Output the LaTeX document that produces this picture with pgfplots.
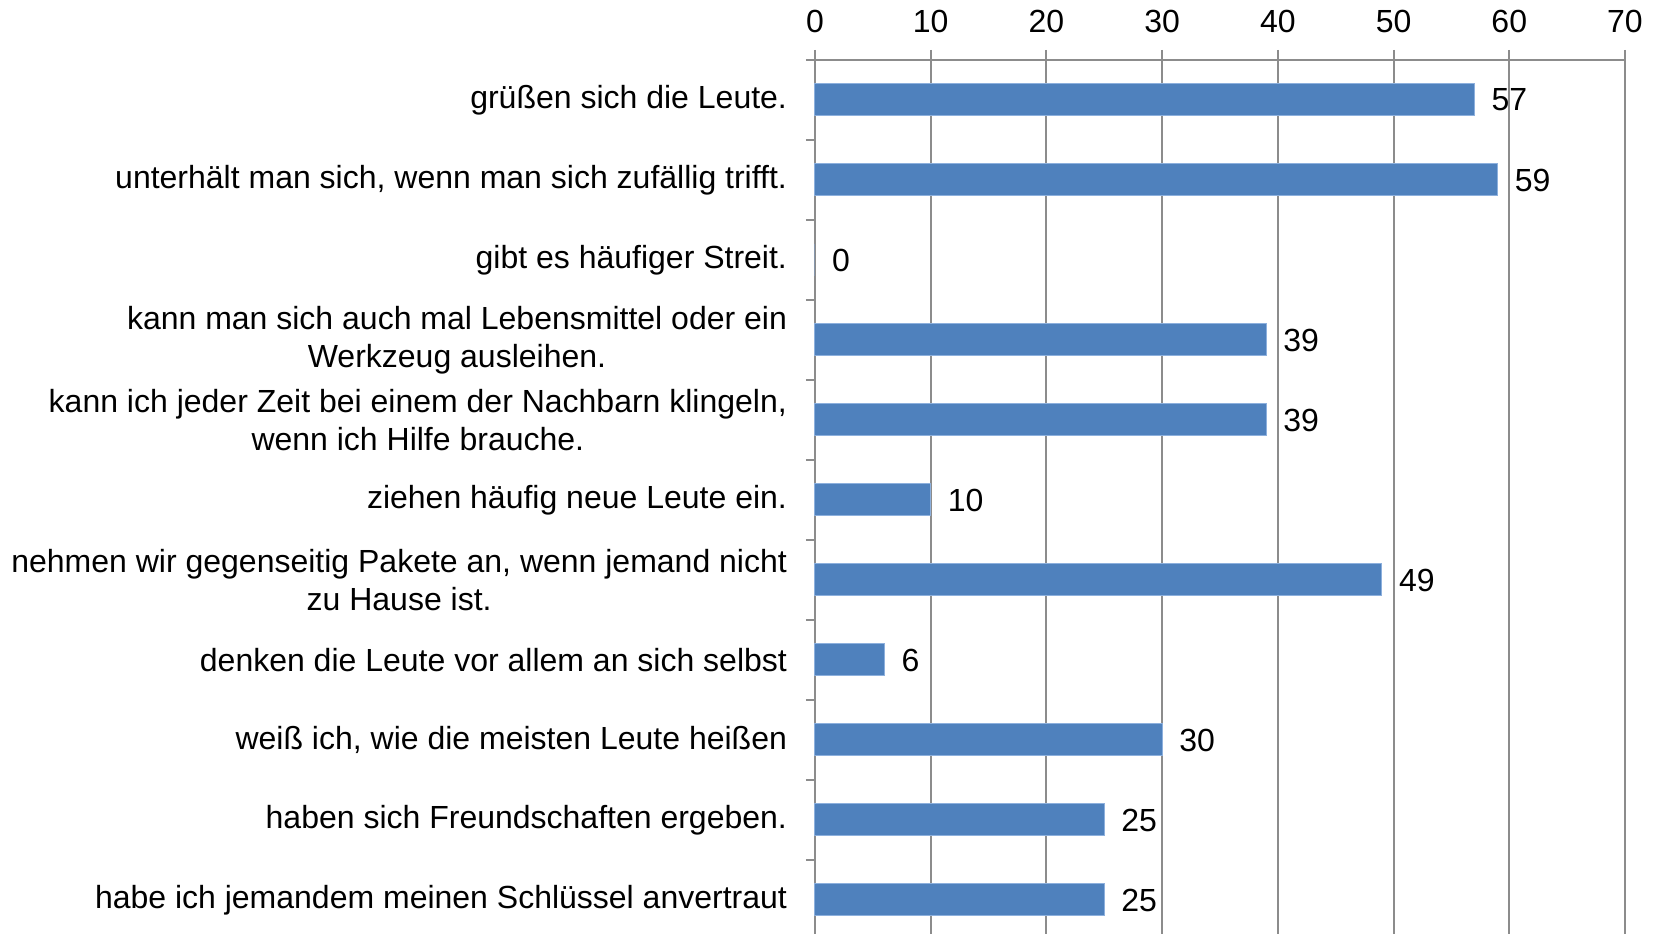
\documentclass[border=0pt]{standalone}
\usepackage{fontspec}
\setmainfont{Liberation Sans}
\usepackage{pgfplots}
\pgfplotsset{compat=1.18}

\definecolor{barblue}{HTML}{4F81BD}
\definecolor{baredge}{HTML}{8DB0DD}
\definecolor{gridgray}{HTML}{8C8C8C}

\newcommand{\lblfont}{\fontsize{16bp}{19bp}\selectfont}

\begin{document}
\begin{tikzpicture}
\begin{axis}[
  at={(0,0)}, anchor=south west,
  scale only axis,
  width=405bp, height=440bp,
  xbar, bar width=16bp,
  xmin=0, xmax=70,
  ymin=-0.5, ymax=10.5,
  xtick={0,10,...,70},
  ytick={0,...,10},
  minor ytick={-0.5,0.5,...,10.5},
  yticklabels={
    habe ich jemandem meinen Schlüssel anvertraut,
    haben sich Freundschaften ergeben.,
    weiß ich{,} wie die meisten Leute heißen,
    denken die Leute vor allem an sich selbst,
    {nehmen wir gegenseitig Pakete an, wenn jemand nicht\\zu Hause ist.},
    ziehen häufig neue Leute ein.,
    {kann ich jeder Zeit bei einem der Nachbarn klingeln,\\wenn ich Hilfe brauche.},
    {kann man sich auch mal Lebensmittel oder ein\\Werkzeug ausleihen.},
    gibt es häufiger Streit.,
    {unterhält man sich, wenn man sich zufällig trifft.},
    grüßen sich die Leute.
  },
  axis x line*=top,
  axis y line*=left,
  axis line style={draw=gridgray, line width=1bp},
  tick align=outside,
  major tick length=5bp,
  minor tick length=4.5bp,
  major y tick style={draw=none},
  minor y tick style={draw=gridgray, line width=1bp},
  major x tick style={draw=gridgray, line width=1bp},
  xmajorgrids,
  grid style={draw=gridgray, line width=1bp},
  /pgf/number format/assume math mode=true,
  tick label style={font=\lblfont, text=black},
  yticklabel style={align=center, anchor=east, xshift=-5.5bp},
  xticklabel style={yshift=5bp},
  nodes near coords,
  every node near coord/.append style={font=\lblfont, text=black, anchor=west, xshift=5bp},
  clip=false,
]
\addplot[fill=barblue, draw=baredge, line width=0.5bp] coordinates {
  (25,0)
  (25,1)
  (30,2)
  (6,3)
  (49,4)
  (10,5)
  (39,6)
  (39,7)
  (0,8)
  (59,9)
  (57,10)
};
\end{axis}
\pgfresetboundingbox
\path (-407.5bp,3bp) rectangle (422bp,470bp);
\end{tikzpicture}
\end{document}
